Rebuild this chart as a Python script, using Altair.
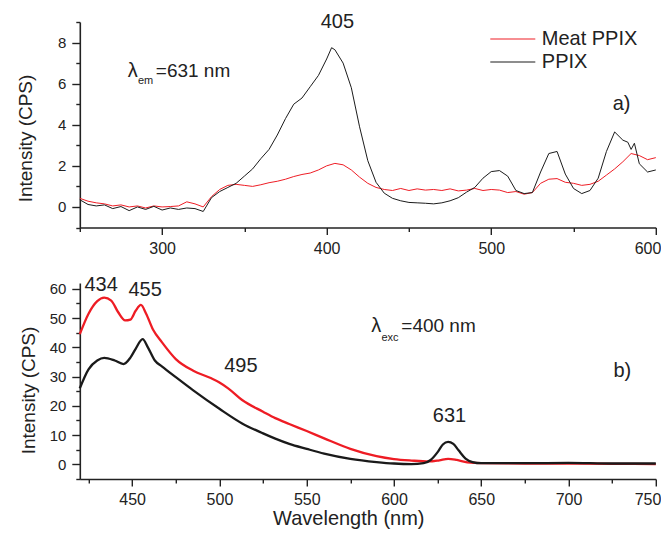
import altair as alt
import pandas as pd

FONT = "Liberation Sans"
INK = "#222222"

# ---------------- data: panel a) (lambda_em = 631 nm) ----------------
top_meat_wl = list(range(250, 605, 5))
top_meat_val = [0.42, 0.28, 0.20, 0.15, 0.05, 0.10, 0.00, 0.05, -0.05, 0.05,
                0.00, 0.02, 0.05, 0.25, 0.15, 0.00, 0.50, 0.85, 1.05, 1.10,
                1.05, 1.00, 1.08, 1.18, 1.25, 1.35, 1.48, 1.58, 1.65, 1.80,
                2.00, 2.12, 2.05, 1.80, 1.45, 1.15, 0.95, 0.85, 0.80, 0.90,
                0.80, 0.88, 0.82, 0.85, 0.80, 0.88, 0.78, 0.82, 0.90, 0.80,
                0.85, 0.82, 0.70, 0.75, 0.62, 0.70, 1.15, 1.35, 1.38, 1.20,
                1.15, 1.05, 1.10, 1.25, 1.55, 1.85, 2.20, 2.60, 2.50, 2.30,
                2.40]

top_ppix_wl = [250, 255, 260, 265, 270, 275, 280, 285, 290, 295,
               300, 305, 310, 315, 320, 325, 330, 335, 340, 345,
               350, 355, 360, 365, 370, 375, 380, 385, 390, 395,
               400, 403, 405, 410, 415, 420, 425, 430, 435, 440,
               445, 450, 455, 460, 465, 470, 475, 480, 485, 490,
               495, 500, 505, 510, 515, 520, 525, 530, 535, 540,
               545, 550, 555, 560, 565, 570, 575, 580, 583, 585,
               587, 590, 595, 600]
top_ppix_val = [0.35, 0.12, 0.05, 0.10, -0.08, 0.02, -0.18, 0.00, -0.12, 0.03,
                -0.15, -0.05, -0.12, -0.05, -0.08, -0.22, 0.45, 0.75, 0.95, 1.15,
                1.50, 1.85, 2.35, 2.80, 3.50, 4.30, 5.00, 5.30, 5.85, 6.40,
                7.20, 7.75, 7.65, 7.00, 5.80, 3.90, 2.25, 1.20, 0.67, 0.42,
                0.30, 0.22, 0.20, 0.18, 0.15, 0.20, 0.30, 0.45, 0.72, 0.95,
                1.40, 1.72, 1.77, 1.50, 0.80, 0.65, 0.70, 1.70, 2.60, 2.70,
                1.60, 0.90, 0.65, 0.80, 1.40, 2.70, 3.65, 3.25, 3.15, 2.80,
                3.10, 2.10, 1.70, 1.80]

# ---------------- data: panel b) (lambda_exc = 400 nm) ----------------
bot_meat_wl = [420, 425, 430, 434, 438, 442, 446, 449, 452, 455, 458, 462, 467,
               475, 485, 495, 500, 505, 513, 525, 532, 540, 550, 560, 575, 590,
               600, 610, 620, 626, 631, 636, 642, 650, 675, 700, 725, 750]
bot_meat_val = [44.5, 51.5, 55.8, 57.0, 56.0, 52.0, 49.2, 49.5, 52.5, 54.5, 51.5, 46.0, 41.8,
                36.0, 32.0, 29.5, 28.0, 26.0, 22.0, 18.0, 15.8, 13.8, 11.4, 8.9, 5.3, 2.8,
                1.8, 1.3, 1.0, 1.4, 1.9, 1.5, 0.7, 0.4, 0.3, 0.3, 0.2, 0.1]

bot_ppix_wl = [420, 425, 430, 434, 440, 445, 449, 452, 456, 459, 463, 467, 475,
               485, 500, 513, 525, 532, 540, 550, 560, 575, 590, 600, 610, 617,
               621, 625, 628, 631, 634, 637, 641, 645, 650, 675, 700, 725, 750]
bot_ppix_val = [26.0, 32.5, 35.5, 36.4, 35.5, 34.3, 36.5, 39.5, 42.8, 40.0, 35.5, 33.5, 29.8,
                25.3, 19.0, 14.0, 10.6, 8.8, 7.0, 5.3, 3.7, 1.9, 0.8, 0.3, 0.1, 0.4,
                1.5, 4.2, 6.8, 7.7, 7.0, 4.8, 2.0, 0.8, 0.4, 0.4, 0.5, 0.3, 0.3]

series_names = ["Meat PPIX", "PPIX"]
series_colors = ["#ee1c24", "#1a1a1a"]

# annotations
top_center_text = ["405"]
top_center_wl = [406.5]
top_center_val = [8.73]

top_left_text = ["\u03bb", "em", "=631 nm", "a)"]
top_left_wl = [279.2, 285.3, 296.2, 573.8]
top_left_val = [6.33, 6.0, 6.33, 4.73]
top_left_size = [20, 11, 19, 20]

bot_center_text = ["434", "455", "495", "631"]
bot_center_wl = [432.2, 457.4, 512.3, 631.8]
bot_center_val = [59.4, 57.7, 31.7, 14.4]

bot_left_text = ["\u03bb", "exc", "=400 nm", "b)"]
bot_left_wl = [587.0, 592.8, 604.2, 725.7]
bot_left_val = [45.2, 42.1, 45.2, 30.0]
bot_left_size = [20, 11, 19, 20]

# ---------------- tables ----------------
def lines(wl_a, val_a, wl_b, val_b):
    return pd.concat([
        pd.DataFrame({"wl": wl_a, "val": val_a, "series": series_names[0]}),
        pd.DataFrame({"wl": wl_b, "val": val_b, "series": series_names[1]}),
    ], ignore_index=True)

top_df = lines(top_meat_wl, top_meat_val, top_ppix_wl, top_ppix_val)
bot_df = lines(bot_meat_wl, bot_meat_val, bot_ppix_wl, bot_ppix_val)


def axis(values, major_mod, major_len, minor_len, label_size, flush=False, **kw):
    extra = {"labelFlushOffset": 5} if flush else {}
    return alt.Axis(
        values=values,
        format="d",
        labelExpr=f"datum.value % {major_mod} == 0 && datum.value >= 0 ? datum.label : ''",
        tickSize={"condition": {"test": f"datum.value % {major_mod} != 0", "value": minor_len},
                  "value": major_len},
        labelFontSize=label_size,
        labelPadding=6,
        labelFlush=flush,
        labelOverlap=False,
        grid=False,
        **extra,
        **kw,
    )


def panel(df, xdom, ydom, xaxis, yaxis, stroke_w, interp, legend, c_text, c_wl, c_val,
          l_text, l_wl, l_val, l_size, w, h):
    xs = alt.Scale(domain=xdom, nice=False, zero=False)
    ys = alt.Scale(domain=ydom, nice=False, zero=False)
    line = alt.Chart(df).mark_line(strokeWidth=stroke_w, interpolate=interp).encode(
        x=alt.X("wl:Q", scale=xs, axis=xaxis),
        y=alt.Y("val:Q", scale=ys, axis=yaxis),
        color=alt.Color("series:N", scale=alt.Scale(domain=series_names, range=series_colors),
                        legend=legend),
    )
    cdf = pd.DataFrame({"wl": c_wl, "val": c_val, "label": c_text})
    ctext = alt.Chart(cdf).mark_text(align="center", baseline="alphabetic", font=FONT,
                                     fontSize=20, color=INK).encode(
        x=alt.X("wl:Q", scale=xs, axis=xaxis),
        y=alt.Y("val:Q", scale=ys, axis=yaxis),
        text="label:N",
    )
    ldf = pd.DataFrame({"wl": l_wl, "val": l_val, "label": l_text, "fs": l_size})
    ltext = alt.Chart(ldf).mark_text(align="left", baseline="alphabetic", font=FONT,
                                     color=INK).encode(
        x=alt.X("wl:Q", scale=xs, axis=xaxis),
        y=alt.Y("val:Q", scale=ys, axis=yaxis),
        text="label:N",
        size=alt.Size("fs:Q", scale=None),
    )
    return alt.layer(line, ctext, ltext).properties(width=w, height=h)


W = 576
H_TOP = 205.5
H_BOT = 196

top_legend = alt.Legend(
    orient="none", legendX=423, legendY=7, title=None,
    symbolType="M-2.5,0H2.5", symbolSize=324, symbolStrokeWidth=1,
    labelFont=FONT, labelFontSize=20, labelColor=INK, labelOffset=19,
    rowPadding=3, padding=0,
)

top = panel(
    top_df, [250, 600], [-1, 9],
    axis(list(range(250, 601, 50)), 100, 7, 4, 16, flush=True, title=None),
    axis(list(range(-1, 10)), 2, 8, 4, 15, title="Intensity (CPS)", titleFontSize=19,
         titleX=-54, titleY=116, titleAlign="center", titleBaseline="middle"),
    1, "linear", top_legend,
    top_center_text, top_center_wl, top_center_val,
    top_left_text, top_left_wl, top_left_val, top_left_size, W, H_TOP,
)

bottom = panel(
    bot_df, [420, 750], [-5, 62],
    axis(list(range(425, 751, 25)), 50, 7, 4, 16, flush=True, title="Wavelength (nm)",
         titleFontSize=20, titleX=268.5, titleY=46, titleAlign="center",
         titleBaseline="alphabetic"),
    axis(list(range(-5, 61, 5)), 10, 8, 4, 15, title="Intensity (CPS)", titleFontSize=19,
         titleX=-51, titleY=107, titleAlign="center", titleBaseline="middle"),
    2.3, "monotone", None,
    bot_center_text, bot_center_wl, bot_center_val,
    bot_left_text, bot_left_wl, bot_left_val, bot_left_size, W, H_BOT,
)

chart = alt.vconcat(top, bottom, spacing=55, bounds="flush").resolve_scale(
    color="independent"
).properties(
    padding={"left": 7.8, "top": 3, "right": 0, "bottom": 0},
    background="white",
).configure_view(stroke=None).configure_axis(
    domainColor=INK, domainWidth=1.6, tickColor=INK, tickWidth=1.4,
    labelFont=FONT, labelColor=INK, titleFont=FONT, titleColor=INK,
    titleFontWeight="normal",
)

chart.save("out.html", embed_options={"renderer": "svg", "actions": False})
